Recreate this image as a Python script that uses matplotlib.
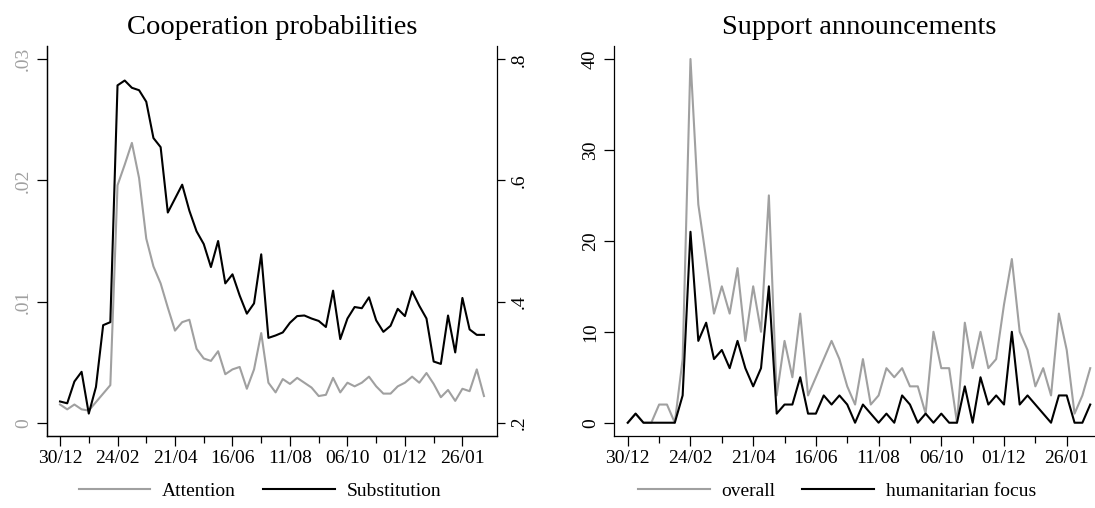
import matplotlib
matplotlib.use('Agg')
import matplotlib.pyplot as plt
import matplotlib.dates as mdates
from matplotlib.ticker import FuncFormatter, FixedLocator
import pandas as pd

plt.rcParams['font.family'] = ['Liberation Serif', 'DejaVu Serif']

# weekly observations, starting 30/12
weeks = pd.date_range('2021-12-30', periods=60, freq='7D')

# cooperation probabilities
attention = [0.0015, 0.0011, 0.0015, 0.0011, 0.0010, 0.0017, 0.0024, 0.0031, 0.0196, 0.0213,
             0.0231, 0.0202, 0.0152, 0.0129, 0.0115, 0.0095, 0.0076, 0.0083, 0.0085, 0.0061,
             0.0053, 0.0051, 0.0059, 0.0040, 0.0044, 0.0046, 0.0028, 0.0044, 0.0074, 0.0033,
             0.0025, 0.0036, 0.0032, 0.0037, 0.0033, 0.0029, 0.0022, 0.0023, 0.0037, 0.0025,
             0.0033, 0.0030, 0.0033, 0.0038, 0.0030, 0.0024, 0.0024, 0.0030, 0.0033, 0.0038,
             0.0033, 0.0041, 0.0032, 0.0021, 0.0027, 0.0018, 0.0028, 0.0026, 0.0044, 0.0022]
substitution = [0.235, 0.232, 0.268, 0.284, 0.215, 0.259, 0.361, 0.366, 0.757, 0.765,
                0.753, 0.749, 0.730, 0.670, 0.655, 0.547, 0.570, 0.593, 0.550, 0.516,
                0.495, 0.457, 0.500, 0.430, 0.445, 0.410, 0.380, 0.397, 0.478, 0.340,
                0.344, 0.349, 0.365, 0.376, 0.377, 0.372, 0.368, 0.358, 0.418, 0.338,
                0.372, 0.391, 0.389, 0.407, 0.369, 0.350, 0.360, 0.388, 0.376, 0.417,
                0.393, 0.372, 0.301, 0.297, 0.377, 0.316, 0.406, 0.354, 0.345, 0.345]

# support announcements
overall = [0, 1, 0, 0, 2, 2, 0, 7, 40, 24,
           18, 12, 15, 12, 17, 9, 15, 10, 25, 3,
           9, 5, 12, 3, 5, 7, 9, 7, 4, 2,
           7, 2, 3, 6, 5, 6, 4, 4, 1, 10,
           6, 6, 0, 11, 6, 10, 6, 7, 13, 18,
           10, 8, 4, 6, 3, 12, 8, 1, 3, 6]
humanitarian = [0, 1, 0, 0, 0, 0, 0, 3, 21, 9,
                11, 7, 8, 6, 9, 6, 4, 6, 15, 1,
                2, 2, 5, 1, 1, 3, 2, 3, 2, 0,
                2, 1, 0, 1, 0, 3, 2, 0, 1, 0,
                1, 0, 0, 4, 0, 5, 2, 3, 2, 10,
                2, 3, 2, 1, 0, 3, 3, 0, 0, 2]

GRAY = '#a0a0a0'
FS = 14


def stata_fmt(v, pos):
    s = '%g' % round(v, 4)
    if s.startswith('0.'):
        s = s[1:]
    return s


def style_x(ax, pad_days):
    ax.xaxis.set_major_locator(FixedLocator(mdates.date2num(weeks[::8])))
    ax.xaxis.set_minor_locator(FixedLocator(mdates.date2num(weeks[4::8])))
    ax.xaxis.set_major_formatter(mdates.DateFormatter('%d/%m'))
    ax.set_xlim(mdates.date2num(weeks[0]) - pad_days, mdates.date2num(weeks[-1]) + pad_days)
    ax.tick_params(axis='x', which='major', length=7, width=0.9, pad=3, labelsize=FS)
    ax.tick_params(axis='x', which='minor', length=5, width=0.9)
    ax.spines['top'].set_visible(False)


def rotate_y(ax):
    for lbl in ax.get_yticklabels():
        lbl.set_rotation(90)
        lbl.set_va('center')
        lbl.set_ha('center')


fig = plt.figure(figsize=(10.95, 5.08), dpi=100)

# left panel
ax1 = fig.add_axes([47 / 1095, 1 - 436 / 508, 450 / 1095, 390 / 508])
ax2 = ax1.twinx()
l_att, = ax1.plot(weeks, attention, color=GRAY, lw=1.5)
l_sub, = ax2.plot(weeks, substitution, color='black', lw=1.5)
style_x(ax1, 12.7)
ax2.spines['top'].set_visible(False)
ax1.spines['right'].set_visible(False)
ax1.set_ylim(-0.0011, 0.0311)
ax2.set_ylim(0.178, 0.822)
ax1.set_yticks([0, 0.01, 0.02, 0.03])
ax2.set_yticks([0.2, 0.4, 0.6, 0.8])
ax1.yaxis.set_major_formatter(FuncFormatter(stata_fmt))
ax2.yaxis.set_major_formatter(FuncFormatter(stata_fmt))
ax1.tick_params(axis='y', length=7, width=0.9, pad=10, labelsize=FS, labelcolor=GRAY)
ax2.tick_params(axis='y', length=6, width=0.9, pad=10, labelsize=FS)
rotate_y(ax1)
rotate_y(ax2)
ax1.set_title('Cooperation probabilities', fontsize=20.5, pad=9)
fig.legend([l_att, l_sub], ['Attention', 'Substitution'], loc='center',
           bbox_to_anchor=(260 / 1095, 1 - 491 / 508), ncol=2, frameon=False,
           fontsize=FS, handlelength=3.7, handletextpad=0.6, columnspacing=1.4)

# right panel
ax3 = fig.add_axes([614 / 1095, 1 - 436 / 508, 490 / 1095, 390 / 508])
l_ov, = ax3.plot(weeks, overall, color=GRAY, lw=1.5)
l_hum, = ax3.plot(weeks, humanitarian, color='black', lw=1.5)
style_x(ax3, 12.3)
ax3.spines['right'].set_visible(False)
ax3.set_ylim(-1.46, 41.43)
ax3.set_yticks([0, 10, 20, 30, 40])
ax3.tick_params(axis='y', length=7, width=0.9, pad=10, labelsize=FS)
rotate_y(ax3)
ax3.set_title('Support announcements', fontsize=20.5, pad=9)
fig.legend([l_ov, l_hum], ['overall', 'humanitarian focus'], loc='center',
           bbox_to_anchor=(837 / 1095, 1 - 491 / 508), ncol=2, frameon=False,
           fontsize=FS, handlelength=3.7, handletextpad=0.6, columnspacing=1.4)

for ax in (ax1, ax2, ax3):
    for sp in ax.spines.values():
        sp.set_linewidth(0.9)

fig.savefig('out.png', dpi=100)
